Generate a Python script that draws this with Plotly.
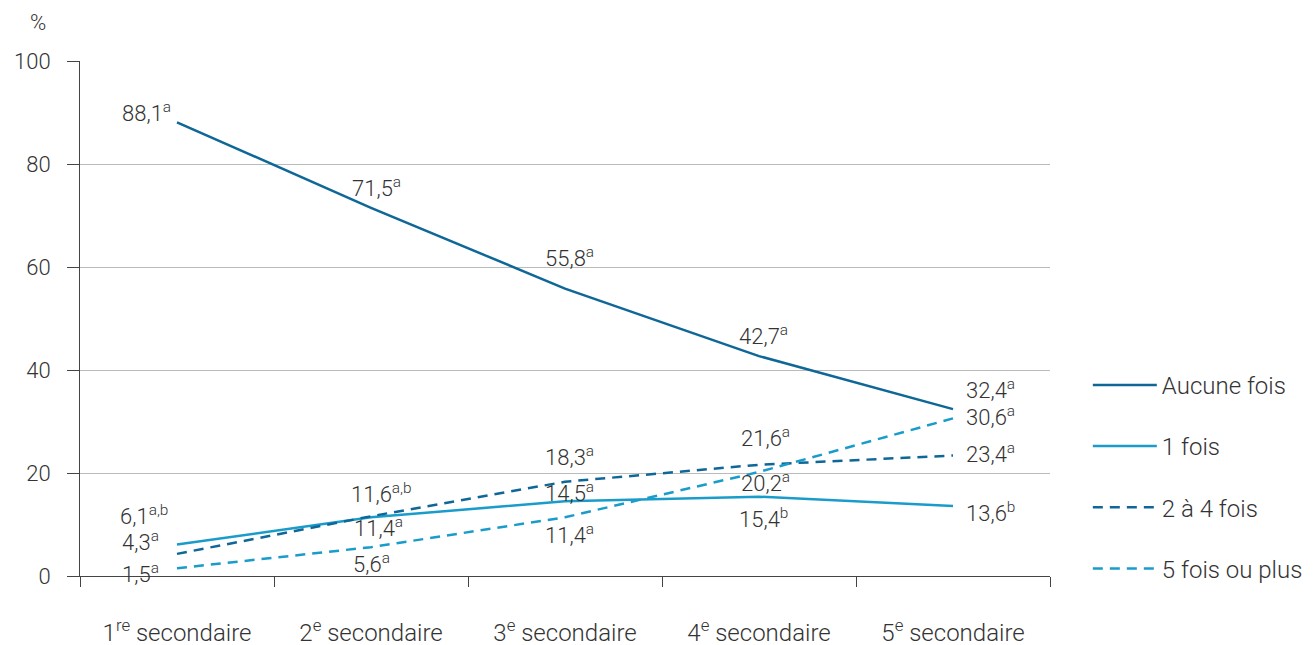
import plotly.graph_objects as go

categories = ["1<sup>re</sup> secondaire", "2<sup>e</sup> secondaire", "3<sup>e</sup> secondaire",
              "4<sup>e</sup> secondaire", "5<sup>e</sup> secondaire"]

series_names = ["Aucune fois", "1 fois", "2 à 4 fois", "5 fois ou plus"]
aucune = [88.1, 71.5, 55.8, 42.7, 32.4]
une = [6.1, 11.4, 14.5, 15.4, 13.6]
deux_quatre = [4.3, 11.6, 18.3, 21.6, 23.4]
cinq_plus = [1.5, 5.6, 11.4, 20.2, 30.6]

sup_aucune = ["a", "a", "a", "a", "a"]
sup_une = ["a,b", "a", "a", "b", "b"]
sup_deux = ["a", "a,b", "a", "a", "a"]
sup_cinq = ["a", "a", "a", "a", "a"]

dark = "#0f6798"
light = "#1a9ccb"
colors = [dark, light, dark, light]
dashes = ["solid", "solid", "10px,7px", "10px,7px"]
values = [aucune, une, deux_quatre, cinq_plus]
sups = [sup_aucune, sup_une, sup_deux, sup_cinq]

# label pixel offsets (xshift, yshift) relative to each point
offsets = [
    [(-31, 10), (5, 21), (4, 32), (4, 21), (37, 20)],
    [(-33, 30), (7, -10), (4, 9), (4, -21), (37, -6)],
    [(-37, 13), (10, 23), (4, 26), (6, 28), (37, 2)],
    [(-37, -5), (0, -16), (4, -17), (6, -10), (37, 2)],
]

TXT = "#333333"
MAIN_FONT = "Roboto"

fig = go.Figure()
for i, name in enumerate(series_names):
    fig.add_trace(go.Scatter(
        x=categories, y=values[i], name=name, mode="lines",
        line=dict(color=colors[i], width=2.5, dash=dashes[i]),
        legendgroup=name,
    ))

annotations = []
for i in range(4):
    for j, c in enumerate(categories):
        v = values[i][j]
        txt = f"{v:.1f}".replace(".", ",") + f"<sup>{sups[i][j]}</sup>"
        dx, dy = offsets[i][j]
        annotations.append(dict(
            x=c, y=v, xref="x", yref="y", text=txt, showarrow=False,
            xshift=dx, yshift=dy,
            font=dict(family=MAIN_FONT, size=22, color=TXT, weight=300),
        ))

annotations.append(dict(x=-0.0433, y=1.0757, xref="paper", yref="paper", text="%",
                        showarrow=False, xanchor="center", yanchor="middle",
                        font=dict(family=MAIN_FONT, size=22, color=TXT, weight=300)))

fig.update_layout(
    width=1315, height=645,
    margin=dict(l=72, r=273, t=53, b=77, autoexpand=False),
    paper_bgcolor="white", plot_bgcolor="white",
    font=dict(family=MAIN_FONT, size=22, color=TXT, weight=300),
    annotations=annotations,
    showlegend=True,
    legend=dict(
        x=1.039, y=0.414, xanchor="left", yanchor="top",
        font=dict(family=MAIN_FONT, size=24, color=TXT, weight=300),
        tracegroupgap=27,
        itemwidth=64,
    ),
)
fig.update_xaxes(
    type="category", range=[-0.5, 4.5], automargin=False,
    showline=True, linecolor="#444444", linewidth=1,
    ticks="outside", tickson="boundaries", ticklen=10, tickcolor="#444444",
    ticklabelstandoff=35,
    showgrid=False, zeroline=False,
    tickfont=dict(family=MAIN_FONT, size=24, color=TXT, weight=300),
)
fig.update_yaxes(
    range=[0, 100], tickvals=[0, 20, 40, 60, 80, 100], automargin=False,
    showline=True, linecolor="#444444", linewidth=1,
    ticks="outside", ticklen=12, tickcolor="#444444",
    ticklabelstandoff=12,
    showgrid=True, gridcolor="#bbbbbb", gridwidth=1,
    zeroline=False,
    tickfont=dict(family=MAIN_FONT, size=22, color=TXT, weight=300),
)

fig.write_html("out.html")
